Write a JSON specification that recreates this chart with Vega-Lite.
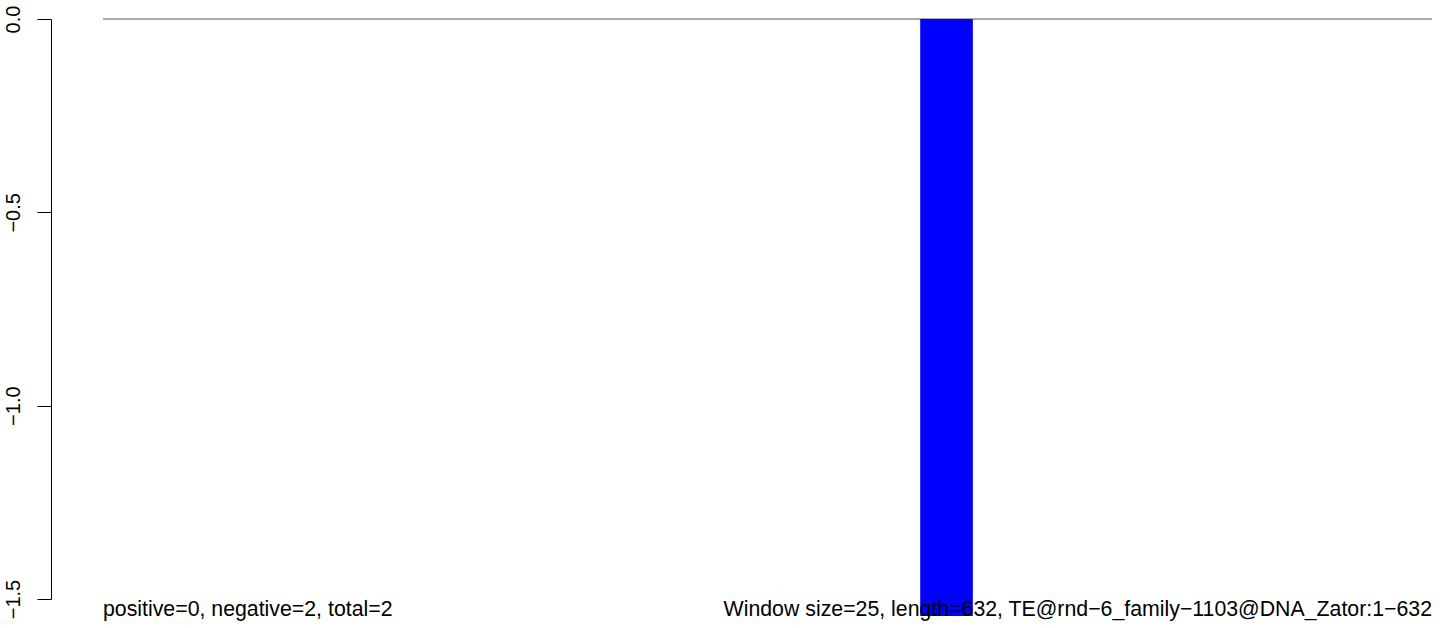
{
  "$schema": "https://vega.github.io/schema/vega-lite/v6.json",
  "width": 1329,
  "height": 580,
  "autosize": {"type": "none"},
  "padding": {"left": 103, "top": 19, "right": 12, "bottom": 29},
  "background": "white",
  "config": {"view": {"stroke": null}, "font": "Liberation Sans"},
  "datasets": {
    "bars": [{"start": 389, "end": 414, "score": -1.544}],
    "leftlabel": [{"pos": 1, "y": -1.544, "label": "positive=0, negative=2, total=2"}],
    "rightlabel": [{"pos": 632, "y": -1.544, "label": "Window size=25, length=632, TE@rnd−6_family−1103@DNA_Zator:1−632"}]
  },
  "layer": [
    {
      "data": {"name": "bars"},
      "mark": {"type": "rule", "color": "#555555", "strokeWidth": 1},
      "encoding": {
        "y": {"datum": 0, "type": "quantitative", "scale": {"domain": [-1.5, 0], "nice": false, "zero": false}}
      }
    },
    {
      "data": {"name": "bars"},
      "mark": {"type": "rect", "color": "#0000FF"},
      "encoding": {
        "x": {"field": "start", "type": "quantitative", "scale": {"domain": [1, 632], "nice": false, "zero": false}, "axis": null},
        "x2": {"field": "end"},
        "y": {"field": "score", "type": "quantitative",
          "scale": {"domain": [-1.5, 0], "nice": false, "zero": false},
          "axis": {"values": [0, -0.5, -1, -1.5], "format": ".1f", "title": null, "grid": false,
            "offset": 52, "tickSize": 14, "tickColor": "black", "domainColor": "black", "domainWidth": 1, "tickWidth": 1,
            "labelAngle": -90, "labelAlign": "center", "labelBaseline": "alphabetic", "labelPadding": 18,
            "labelFontSize": 20, "labelColor": "black", "labelFont": "Liberation Sans", "labelFlush": false, "labelOverlap": false}},
        "y2": {"datum": 0}
      }
    },
    {
      "data": {"name": "leftlabel"},
      "mark": {"type": "text", "fontSize": 21.3, "color": "black", "baseline": "alphabetic", "align": "left", "font": "Liberation Sans"},
      "encoding": {
        "x": {"field": "pos", "type": "quantitative"},
        "y": {"field": "y", "type": "quantitative"},
        "text": {"field": "label"}
      }
    },
    {
      "data": {"name": "rightlabel"},
      "mark": {"type": "text", "fontSize": 21.3, "color": "black", "baseline": "alphabetic", "align": "right", "font": "Liberation Sans"},
      "encoding": {
        "x": {"field": "pos", "type": "quantitative"},
        "y": {"field": "y", "type": "quantitative"},
        "text": {"field": "label"}
      }
    }
  ]
}
